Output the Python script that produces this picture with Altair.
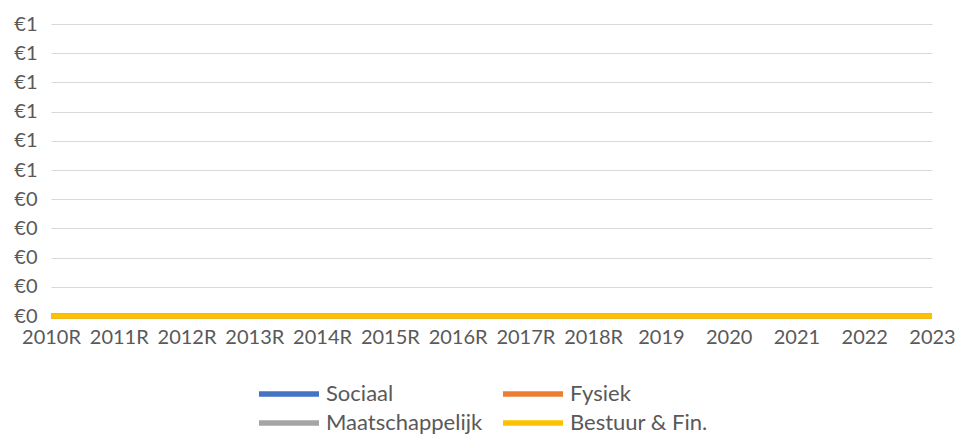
import altair as alt
import pandas as pd

categories = ["2010R", "2011R", "2012R", "2013R", "2014R", "2015R", "2016R",
              "2017R", "2018R", "2019", "2020", "2021", "2022", "2023"]
sociaal = [0, 0, 0, 0, 0, 0, 0, 0, 0, 0, 0, 0, 0, 0]
fysiek = [0, 0, 0, 0, 0, 0, 0, 0, 0, 0, 0, 0, 0, 0]
maatschappelijk = [0, 0, 0, 0, 0, 0, 0, 0, 0, 0, 0, 0, 0, 0]
bestuur = [0, 0, 0, 0, 0, 0, 0, 0, 0, 0, 0, 0, 0, 0]
series_names = ["Sociaal", "Fysiek", "Maatschappelijk", "Bestuur & Fin."]
series_colors = ["#4472C4", "#ED7D31", "#A5A5A5", "#FFC000"]
y_ticks = [0, 0.1, 0.2, 0.3, 0.4, 0.5, 0.6, 0.7, 0.8, 0.9, 1.0]

rows = []
for name, vals in zip(series_names, [sociaal, fysiek, maatschappelijk, bestuur]):
    for c, v in zip(categories, vals):
        rows.append({"jaar": c, "reeks": name, "waarde": v})
df = pd.DataFrame(rows)

FONT = "Lato"
TXT = "#595959"

chart = alt.Chart(df).mark_line(strokeWidth=5.5, strokeCap="butt").encode(
    x=alt.X("jaar:N", sort=categories,
            scale=alt.Scale(type="point", padding=0),
            axis=alt.Axis(title=None, labelAngle=0, domain=False, ticks=False, grid=False,
                          labelPadding=11, labelFontSize=20, labelColor=TXT, labelFont=FONT)),
    y=alt.Y("waarde:Q", scale=alt.Scale(domain=[0, 1], nice=False),
            axis=alt.Axis(title=None, values=y_ticks,
                          labelExpr="'€' + format(datum.value, '.0f')",
                          domain=False, ticks=False, gridColor="#D9D9D9", gridWidth=1,
                          labelPadding=14, labelFontSize=20, labelColor=TXT, labelFont=FONT)),
    color=alt.Color("reeks:N", sort=series_names,
                    scale=alt.Scale(domain=series_names, range=series_colors),
                    legend=alt.Legend(title=None, orient="none", legendX=225, legendY=357,
                                      direction="horizontal",
                                      columns=2, symbolType="M-3,0L3,0", symbolSize=400,
                                      symbolStrokeWidth=5.5, labelFontSize=22, labelFont=FONT,
                                      labelColor=TXT, columnPadding=9, rowPadding=5,
                                      labelOffset=24, padding=0)),
).properties(
    width=881, height=292,
    autosize=alt.AutoSizeParams(type="none"),
    padding={"left": 43, "top": 16, "right": 26, "bottom": 122},
).configure_view(stroke=None)

chart.save("out.html", embed_options={"renderer": "svg", "actions": False})
